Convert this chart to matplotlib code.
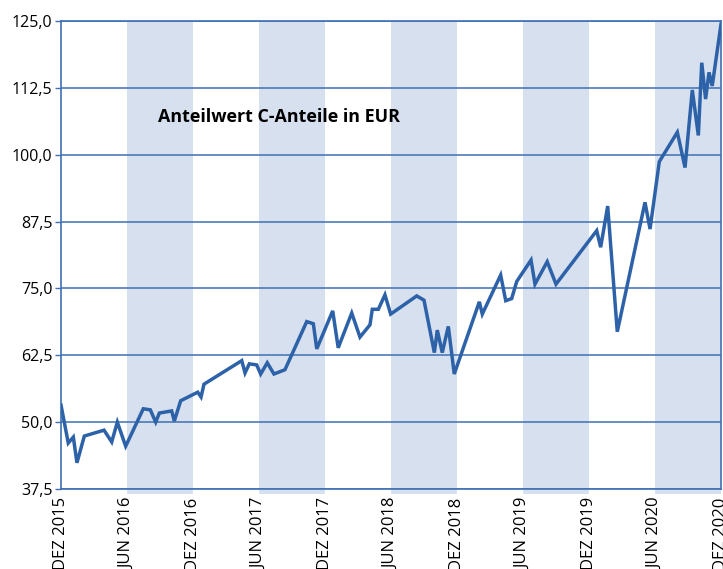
import matplotlib
matplotlib.use("Agg")
import matplotlib.pyplot as plt

# months since Dec 2015
months = [0, 0.66, 1.12, 1.45, 2.12, 3.91, 4.61, 5.12, 5.88, 7.48, 8.12, 8.61,
          8.94, 10.06, 10.3, 10.88, 12.43, 12.73, 13.0, 16.43, 16.73, 17.12,
          17.79, 18.15, 18.75, 19.36, 20.36, 22.34, 22.94, 23.25, 24.7, 25.2,
          26.43, 27.18, 28.09, 28.3, 28.85, 29.45, 29.97, 32.34, 33.0, 33.94,
          34.21, 34.66, 35.21, 35.75, 38.03, 38.3, 39.97, 40.43, 40.97, 41.43,
          42.73, 43.09, 44.2, 45.0, 48.7, 49.06, 49.7, 50.57, 53.09, 53.55,
          54.39, 56.03, 56.73, 57.39, 57.94, 58.25, 58.6, 58.91, 59.2, 60.0]
values = [53.2, 46.1, 47.2, 42.4, 47.4, 48.5, 46.3, 50.0, 45.5, 52.5, 52.3, 50.0,
          51.7, 52.1, 50.2, 54.0, 55.6, 54.7, 57.1, 61.5, 59.2, 60.9,
          60.7, 59.0, 61.1, 59.0, 59.8, 68.8, 68.4, 63.7, 70.8, 63.9,
          70.4, 65.9, 68.2, 71.1, 71.1, 73.8, 70.2, 73.6, 72.8, 63.0,
          67.2, 63.0, 67.9, 59.0, 72.5, 70.2, 77.5, 72.7, 73.1, 76.3,
          80.3, 75.8, 80.0, 75.8, 85.8, 82.7, 90.4, 66.9, 91.1, 86.1,
          98.7, 104.2, 97.6, 112.1, 103.6, 117.2, 110.4, 115.4, 112.85, 124.4]

tick_pos = [0, 6, 12, 18, 24, 30, 36, 42, 48, 54, 60]
tick_labels = ["DEZ 2015", "JUN 2016", "DEZ 2016", "JUN 2017", "DEZ 2017",
               "JUN 2018", "DEZ 2018", "JUN 2019", "DEZ 2019", "JUN 2020", "DEZ 2020"]
y_ticks = [37.5, 50.0, 62.5, 75.0, 87.5, 100.0, 112.5, 125.0]
shaded = [(6, 12), (18, 24), (30, 36), (42, 48), (54, 60)]

blue = "#2d62a9"
frame = "#3f70b3"
band = "#d6e0ee"

fig = plt.figure(figsize=(7.23, 5.69), dpi=100)
ax = fig.add_axes([61/723, 1-489/569, 660/723, 468/569])

for a, b in shaded:
    ax.axvspan(a, b, ymin=-0.011, ymax=1, color=band, lw=0, clip_on=False, zorder=0)

for y in y_ticks:
    ax.axhline(y, color=frame, lw=1.1, zorder=1)

ax.plot(months, values, color=blue, lw=2.5, zorder=3, solid_joinstyle="miter")

ax.set_xlim(0, 60)
ax.set_ylim(37.5, 125)
ax.set_yticks(y_ticks)
ax.set_yticklabels([f"{v:.1f}".replace(".", ",") for v in y_ticks],
                   fontsize=11.5, fontfamily="Open Sans")
ax.set_xticks(tick_pos)
ax.set_xticklabels(tick_labels, rotation=90, fontsize=12, fontfamily="Open Sans",
                   va="top", ha="center")
ax.tick_params(axis="x", length=0, pad=6)
ax.tick_params(axis="y", length=4, width=1, color=frame, pad=2)

for s in ax.spines.values():
    s.set_color(frame)
    s.set_linewidth(1.2)

ax.text(0.147, 0.795, "Anteilwert C-Anteile in EUR", transform=ax.transAxes,
        fontsize=12.9, fontweight="bold", fontfamily="Open Sans", va="center")

fig.savefig("out.png", dpi=100)
